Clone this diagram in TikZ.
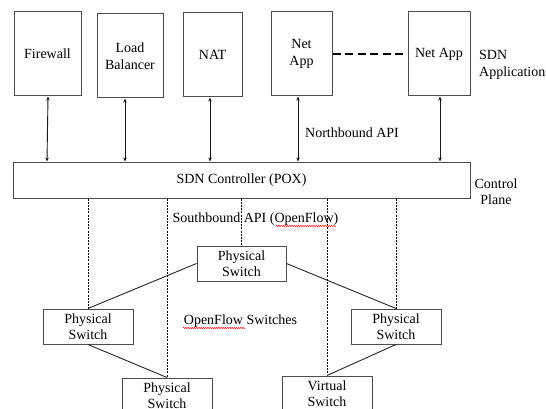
\documentclass[tikz,border=0pt]{standalone}
\usepackage{fontspec}
\setmainfont{Liberation Serif}
\newfontfamily\tnrfont{Liberation Serif}
\usetikzlibrary{arrows.meta,decorations.pathmorphing}
\begin{document}
\begin{tikzpicture}[x=1pt,y=-1pt,
  every node/.style={font=\tnrfont\fontsize{14}{16.5}\selectfont, inner sep=0pt},
  box/.style={draw=black!70, line width=1pt, inner sep=0pt, align=center},
  appbox/.style={box, minimum height=84pt},
  swbox/.style={box, minimum width=90pt, minimum height=35pt},
  biarrow/.style={{Stealth[length=4pt,width=3.5pt]}-{Stealth[length=4pt,width=3.5pt]}, line width=0.9pt, black!90},
  vdash/.style={dash pattern=on 2pt off 1.2pt, line width=0.7pt, black},
  link/.style={line width=0.9pt, black!85},
  appdash/.style={dash pattern=on 8pt off 4.5pt, line width=1.5pt, black},
  squig/.style={red, line width=0.5pt, decorate, decoration={snake, segment length=2.2pt, amplitude=0.6pt}}
]
\path[use as bounding box] (0,0) rectangle (546,409);
\clip (0,0) rectangle (546,409);

% SDN applications
\node[appbox, minimum width=67pt] (fw) at (47.5,54) {Firewall};
\node[appbox, minimum width=66pt] (lb) at (130,56) {Load\\Balancer};
\node[appbox, minimum width=59pt] (nat) at (212.5,55) {NAT};
\node[appbox, minimum width=61pt] (na1) at (301.5,54) {Net\\App};
\node[appbox, minimum width=62pt] (na2) at (439,54) {Net App};

% controller
\node[box, minimum width=457pt, minimum height=36pt] (ctrl) at (241.5,180) {SDN Controller (POX)};

% northbound arrows
\coordinate (fwA) at ([xshift=0.5pt]fw.south);
\coordinate (fwB) at ([xshift=-0.5pt]fw.south |- ctrl.north);
\coordinate (lbA) at ([xshift=-5pt]lb.south);
\coordinate (natA) at ([xshift=-2.5pt]nat.south);
\coordinate (na1A) at ([xshift=-3.5pt]na1.south);
\coordinate (na2A) at ([xshift=1pt]na2.south);
\draw[biarrow] (fwA) -- (fwB);
\draw[biarrow] (lbA) -- (lbA |- ctrl.north);
\draw[biarrow] (natA) -- (natA |- ctrl.north);
\draw[biarrow] (na1A) -- (na1A |- ctrl.north);
\draw[biarrow] (na2A) -- (na2A |- ctrl.north);

\draw[appdash] (na1.east) -- (na2.west);

% switches
\node[swbox, minimum width=89pt] (top) at (241.5,263.5) {Physical\\Switch};
\node[swbox] (ls) at (88,326.5) {Physical\\Switch};
\node[swbox] (rs) at (396,326.5) {Physical\\Switch};
\node[swbox] (bs) at (167,395.5) {Physical\\Switch};
\node[swbox] (vs) at (327,393.5) {Virtual\\Switch};

% southbound dashed lines
\draw[vdash] (ctrl.south -| ls.north) -- (ls.north);
\draw[vdash] (ctrl.south -| bs.north) -- (bs.north);
\draw[vdash] (ctrl.south -| top.north) -- (top.north);
\draw[vdash] (ctrl.south -| vs.north) -- (vs.north);
\draw[vdash] (ctrl.south -| rs.north) -- (rs.north);

% switch links
\draw[link] (top.west) -- (ls.north);
\draw[link] (top.east) -- (rs.north);
\draw[link] (ls.south) -- (bs.north);
\draw[link] (rs.south) -- (vs.north);

% labels
\node[anchor=west, align=left] (sdnapp) at (479,65) {SDN\\Application};
\node[align=center] (cp) at (496,191.5) {Control\\Plane};
\node (nb) at (352,133) {Northbound API};
\node (sb) at (255.5,219) {Southbound API (OpenFlow)};
\node (ofs) at (240.5,321) {OpenFlow Switches};

% spell-check underlines
\coordinate (sq1a) at (276,226);
\coordinate (sq1b) at (336,226);
\coordinate (sq2a) at (183,328);
\coordinate (sq2b) at (245,328);
\draw[squig] (sq1a) -- (sq1b);
\draw[squig] (sq2a) -- (sq2b);
\end{tikzpicture}
\end{document}
